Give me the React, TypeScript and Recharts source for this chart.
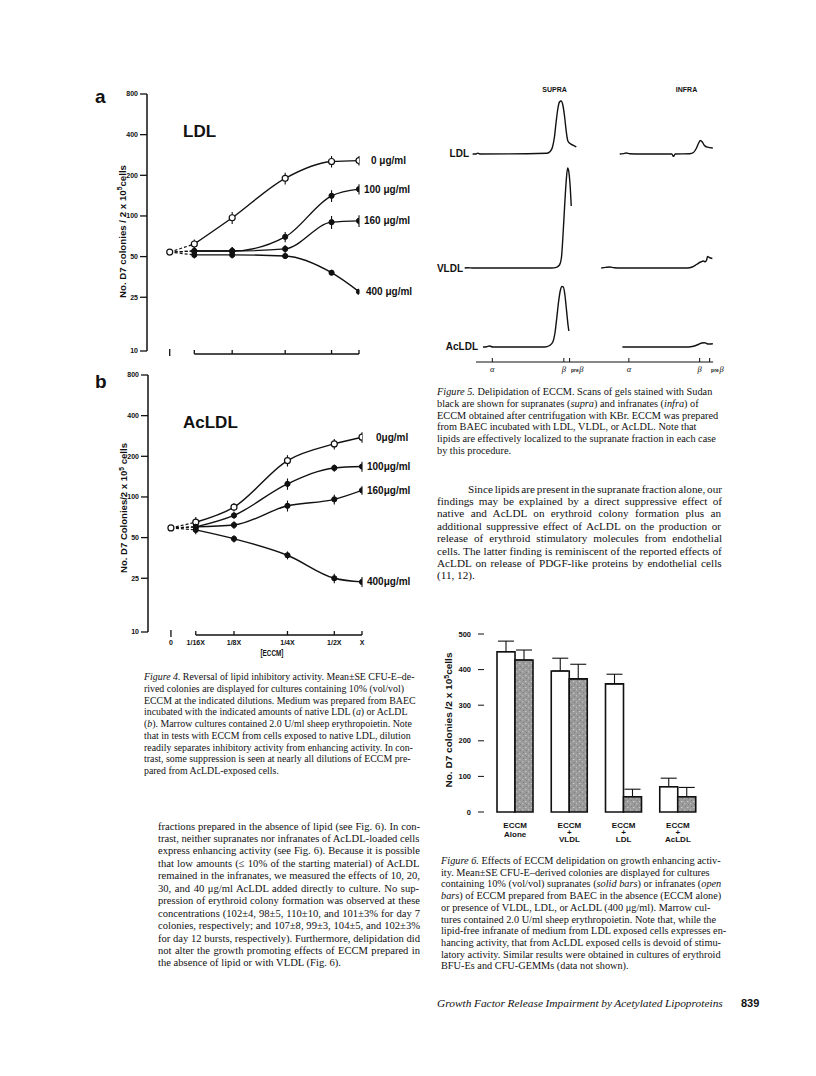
import React from 'react';
import {
  ComposedChart, LineChart, BarChart, Line, Bar, XAxis, YAxis, ErrorBar,
  ReferenceLine, LabelList,
} from 'recharts';

const SANS = '"Liberation Sans", Arial, Helvetica, sans-serif';
const SERIF = '"Liberation Serif", "Times New Roman", serif';
const INK = '#111';

// ---------------- Figure 4 data ----------------
const dilutionLabels = ['0', '1/16X', '1/8X', '1/4X', '1/2X', 'X'];
const dilutionPos = [0, 13, 33, 61, 85.5, 100];
const logTicks = [10, 25, 50, 100, 200, 400, 800];
const doseLabelsA = ['0 μg/ml', '100 μg/ml', '160 μg/ml', '400 μg/ml'];
const doseLabelsB = ['0μg/ml', '100μg/ml', '160μg/ml', '400μg/ml'];

const ldlStart = 54;
const ldl0 = [62, 97, 190, 253, 257];
const ldl0Err = [5, 10, 19, 25, 21];
const ldl100 = [55, 55, 70, 141, 158];
const ldl100Err = [4, 4, 6, 14, 14];
const ldl160 = [55, 55, 57, 90, 92];
const ldl160Err = [4, 4, 4, 10, 9];
const ldl400 = [51.5, 51.5, 50.5, 38, 27.5];
const ldl400Err = [3, 3, 2, 1, 1];

const acStart = 59;
const ac0 = [65, 84, 186, 247, 277];
const ac0Err = [6, 6, 18, 22, 25];
const ac100 = [60, 73, 125, 164, 168];
const ac100Err = [5, 4, 12, 10, 14];
const ac160 = [60, 62, 86, 96, 112];
const ac160Err = [5, 4, 8, 8, 8];
const ac400 = [57, 49, 37, 25, 23.5];
const ac400Err = [4, 3, 2.5, 2, 2];

// ---------------- Figure 5 data (scan traces: [migration, intensity]) ----------------
const ldlSupra = [[0, 0], [1.2, 0], [2.2, 0.9], [3.2, 0], [31, 0.8], [32.3, 2.5], [33.3, 7], [34.1, 17], [34.8, 32], [35.5, 45], [36.2, 52], [36.9, 53], [37.6, 49], [38.3, 38], [39.0, 23], [39.7, 13], [40.6, 10.5], [41.8, 8.8], [43.2, 7]];
const ldlInfra = [[61.3, 0], [62.8, 0.4], [64, 1], [65.5, 0.2], [70, 0], [83, 0], [83.7, -2.5], [84.4, 0], [90.5, 0.3], [92, 1.5], [93.3, 6], [94.2, 11], [94.9, 13.5], [95.7, 12], [96.6, 8.5], [97.8, 6.8], [100.1, 6]];
const vldlSupra = [[-3.3, 0], [-2, 0.3], [0, 0], [33, 0], [34.9, 0.7], [36.2, 3], [37.0, 10], [37.6, 30], [38.3, 60], [39.0, 87], [39.6, 100], [40.1, 96], [40.7, 80], [41.1, 62]];
const vldlInfra = [[53.6, 0], [55.5, 0.6], [57.1, 1], [59, 0.3], [62, 0], [89.5, 0], [91.5, 1], [93.3, 3.5], [95, 6], [96.2, 7], [96.9, 6.2], [97.5, 8], [97.9, 11.5], [98.6, 10.5], [99.9, 9.5]];
const acSupra = [[4.3, 0], [5.8, 0.3], [7.1, 1], [8.4, 0], [30, 0], [32.1, 1.5], [33.4, 5], [34.3, 14], [35.1, 30], [35.8, 45], [36.5, 56], [37.2, 60.5], [37.8, 60], [38.4, 53], [38.9, 42], [39.4, 30], [39.8, 21], [40.1, 16]];
const acInfra = [[62.4, 0], [70, 0], [90, 0], [92, 0.8], [94, 2.5], [95.5, 4], [96.6, 4.3], [97.6, 3.3], [98.6, 3], [100.1, 3.2]];
const scanTickPos = [8.2, 38, 40.4, 65.1, 94.6, 98.75];
const scanTickLabels = ['α', 'β', 'preβ', 'α', 'β', 'preβ'];

// ---------------- Figure 6 data ----------------
const fig6Cats = ['ECCM|Alone', 'ECCM|+|VLDL', 'ECCM|+|LDL', 'ECCM|+|AcLDL'];
const fig6Open = [450, 396, 360, 71];
const fig6OpenErr = [30, 36, 27, 24];
const fig6Solid = [427, 374, 43, 43];
const fig6SolidErr = [28, 41, 21, 26];
const fig6Ticks = [0, 100, 200, 300, 400, 500];

// ---------------- Text ----------------
const fig4Caption = [
  '_Figure 4._ Reversal of lipid inhibitory activity. Mean±SE CFU-E–de-',
  'rived colonies are displayed for cultures containing 10% (vol/vol)',
  'ECCM at the indicated dilutions. Medium was prepared from BAEC',
  'incubated with the indicated amounts of native LDL (_a_) or AcLDL',
  '(_b_). Marrow cultures contained 2.0 U/ml sheep erythropoietin. Note',
  'that in tests with ECCM from cells exposed to native LDL, dilution',
  'readily separates inhibitory activity from enhancing activity. In con-',
  'trast, some suppression is seen at nearly all dilutions of ECCM pre-',
  'pared from AcLDL-exposed cells.',
];
const fig5Caption = [
  '_Figure 5._ Delipidation of ECCM. Scans of gels stained with Sudan',
  'black are shown for supranates (_supra_) and infranates (_infra_) of',
  'ECCM obtained after centrifugation with KBr. ECCM was prepared',
  'from BAEC incubated with LDL, VLDL, or AcLDL. Note that',
  'lipids are effectively localized to the supranate fraction in each case',
  'by this procedure.',
];
const fig6Caption = [
  '_Figure 6._ Effects of ECCM delipidation on growth enhancing activ-',
  'ity. Mean±SE CFU-E–derived colonies are displayed for cultures',
  'containing 10% (vol/vol) supranates (_solid bars_) or infranates (_open_',
  '_bars_) of ECCM prepared from BAEC in the absence (ECCM alone)',
  'or presence of VLDL, LDL, or AcLDL (400 μg/ml). Marrow cul-',
  'tures contained 2.0 U/ml sheep erythropoietin. Note that, while the',
  'lipid-free infranate of medium from LDL exposed cells expresses en-',
  'hancing activity, that from AcLDL exposed cells is devoid of stimu-',
  'latory activity. Similar results were obtained in cultures of erythroid',
  'BFU-Es and CFU-GEMMs (data not shown).',
];
const bodyLeft = [
  'fractions prepared in the absence of lipid (see Fig. 6). In con-',
  'trast, neither supranates nor infranates of AcLDL-loaded cells',
  'express enhancing activity (see Fig. 6). Because it is possible',
  'that low amounts (≤ 10% of the starting material) of AcLDL',
  'remained in the infranates, we measured the effects of 10, 20,',
  '30, and 40 μg/ml AcLDL added directly to culture. No sup-',
  'pression of erythroid colony formation was observed at these',
  'concentrations (102±4, 98±5, 110±10, and 101±3% for day 7',
  'colonies, respectively; and 107±8, 99±3, 104±5, and 102±3%',
  'for day 12 bursts, respectively). Furthermore, delipidation did',
  'not alter the growth promoting effects of ECCM prepared in',
  'the absence of lipid or with VLDL (Fig. 6).',
];
const bodyRight = [
  'Since lipids are present in the supranate fraction alone, our',
  'findings may be explained by a direct suppressive effect of',
  'native and AcLDL on erythroid colony formation plus an',
  'additional suppressive effect of AcLDL on the production or',
  'release of erythroid stimulatory molecules from endothelial',
  'cells. The latter finding is reminiscent of the reported effects of',
  'AcLDL on release of PDGF-like proteins by endothelial cells',
  '(11, 12).',
];
const footerText = 'Growth Factor Release Impairment by Acetylated Lipoproteins';

// ---------------- text measuring (for justified lines) ----------------
let measureCtx: CanvasRenderingContext2D | null = null;
function measureText(text: string, size: number, italic: boolean): number {
  if (typeof document === 'undefined') return text.length * size * 0.45;
  if (!measureCtx) measureCtx = document.createElement('canvas').getContext('2d');
  if (!measureCtx) return text.length * size * 0.45;
  measureCtx.font = `${italic ? 'italic ' : ''}${size}px "Liberation Serif"`;
  return measureCtx.measureText(text).width;
}

// ---------------- Figure 4 component ----------------
const openDot = { r: 3, fill: '#fff', stroke: INK, strokeWidth: 1.2 };
const filledDot = { r: 2.6, fill: INK, stroke: INK, strokeWidth: 1 };

const DoseTick = (props: any) => {
  const { x, y, payload, showLabels } = props;
  const idx = dilutionPos.indexOf(payload.value);
  return (
    <g>
      {idx === 0
        ? <line x1={x} x2={x} y1={y - 2} y2={y + 5} stroke={INK} strokeWidth={1.3} />
        : <line x1={x} x2={x} y1={y - 1} y2={y + 3} stroke={INK} strokeWidth={1.3} />}
      {showLabels ? (
        <text x={x} y={y + 13} textAnchor="middle" fontSize={7} fontWeight="bold" fontFamily={SANS} fill={INK}>
          {dilutionLabels[idx]}
        </text>
      ) : null}
    </g>
  );
};

function DoseChart(props: {
  plotLeft: number; plotTop: number; plotW: number; start: number;
  series: number[][]; errs: number[][]; labels: string[]; labelDx: number[]; showXLabels: boolean;
}) {
  const { plotLeft, plotTop, plotW, start, series, errs, labels, labelDx, showXLabels } = props;
  const yAxisW = 30;
  const mTop = 6;
  const plotH = 257;
  const mRight = 64;
  const xAxisH = 22;
  const width = yAxisW + plotW + mRight;
  const height = mTop + plotH + xAxisH;
  return (
    <div style={{ position: 'absolute', left: plotLeft - yAxisW, top: plotTop - mTop, width, height }}>
      <ComposedChart width={width} height={height} margin={{ top: mTop, right: mRight, bottom: 0, left: 0 }}>
        <XAxis type="number" dataKey="x" domain={[-12, 100]} allowDataOverflow ticks={dilutionPos} interval={0}
          axisLine={false} tickLine={false} tickSize={0} tickMargin={0} height={xAxisH}
          tick={<DoseTick showLabels={showXLabels} />} />
        <YAxis type="number" scale="log" domain={[10, 800]} allowDataOverflow ticks={logTicks} interval={0}
          width={yAxisW} tickSize={7} tickMargin={2}
          axisLine={{ stroke: INK, strokeWidth: 1.5 }} tickLine={{ stroke: INK, strokeWidth: 1.3 }}
          tick={{ fontSize: 7, fontWeight: 'bold', fontFamily: SANS, fill: INK }} />
        <ReferenceLine segment={[{ x: dilutionPos[1], y: 9.5 }, { x: dilutionPos[5], y: 9.5 }]}
          stroke={INK} strokeWidth={1.3} ifOverflow="visible" />
        {series.map((vals, si) => (
          <Line key={'d' + si} data={[{ x: dilutionPos[0], y: start }, { x: dilutionPos[1], y: vals[0] }]}
            dataKey="y" stroke={INK} strokeWidth={1.2} strokeDasharray="3 2" dot={false}
            isAnimationActive={false} />
        ))}
        {series.map((vals, si) => (
          <Line key={'s' + si}
            data={vals.map((v, i) => ({ x: dilutionPos[i + 1], y: v, e: errs[si][i] }))}
            dataKey="y" type="monotone" stroke={INK} strokeWidth={1.4}
            dot={si === 0 ? openDot : filledDot} isAnimationActive={false}>
            <ErrorBar dataKey="e" direction="y" width={0} stroke={INK} strokeWidth={1.1} />
            <LabelList dataKey="y" content={(p: any) => {
              if (p.index !== vals.length - 1) return null;
              const px = Number(p.x ?? p.viewBox?.x);
              const py = Number(p.y ?? p.viewBox?.y);
              return (
                <text x={px + labelDx[si]} y={py + 3.5} fontSize={10} fontWeight="bold" fontFamily={SANS} fill={INK}>
                  {labels[si]}
                </text>
              );
            }} />
          </Line>
        ))}
        <Line data={[{ x: dilutionPos[0], y: start }]} dataKey="y" stroke="none" dot={openDot} isAnimationActive={false} />
      </ComposedChart>
    </div>
  );
}

// ---------------- Figure 5 component ----------------
const ScanTick = (props: any) => {
  const { x, y, payload } = props;
  const idx = scanTickPos.indexOf(payload.value);
  const lab = scanTickLabels[idx];
  return (
    <g>
      <line x1={x} x2={x} y1={y - 4} y2={y} stroke={INK} strokeWidth={1} />
      {lab === 'preβ' ? (
        <text x={x + 1.5} y={y + 10} fontSize={8.5} fontStyle="italic" fontFamily={SERIF} fill={INK}>
          <tspan fontSize={5} fontWeight="bold" fontStyle="normal" fontFamily={SANS}>pre</tspan>
          <tspan dx={0.5}>β</tspan>
        </text>
      ) : (
        <text x={x} y={y + 10} textAnchor="middle" fontSize={8.5} fontStyle="italic" fontFamily={SERIF} fill={INK}>{lab}</text>
      )}
    </g>
  );
};

const toPts = (arr: number[][]) => arr.map(([u, h]) => ({ u, h }));

function ScanRow(props: {
  left: number; top: number; width: number; plotH: number; xDomain: number[]; yDomain: number[];
  traces: number[][][]; axis?: boolean;
}) {
  const { left, top, width, plotH, xDomain, yDomain, traces, axis } = props;
  const axisH = axis ? 18 : 0;
  const mRight = axis ? 16 : 0;
  const height = plotH + axisH;
  return (
    <div style={{ position: 'absolute', left, top, width: width + mRight, height }}>
      <LineChart width={width + mRight} height={height} margin={{ top: 0, right: mRight, bottom: 0, left: 0 }}>
        <XAxis type="number" dataKey="u" domain={xDomain} allowDataOverflow hide={!axis}
          ticks={scanTickPos} interval={0} height={axisH || 0} tickSize={0} tickMargin={0}
          axisLine={{ stroke: INK, strokeWidth: 1.2 }} tickLine={false} tick={<ScanTick />} />
        <YAxis type="number" domain={yDomain} allowDataOverflow hide />
        {traces.map((t, i) => (
          <Line key={i} data={toPts(t)} dataKey="h" type="monotone" stroke={INK} strokeWidth={1.4}
            dot={false} isAnimationActive={false} />
        ))}
      </LineChart>
    </div>
  );
}

// ---------------- Figure 6 component ----------------
const Fig6Tick = (props: any) => {
  const { x, y, payload } = props;
  const lines = String(payload.value).split('|');
  return (
    <text x={x} y={y} textAnchor="middle" fontSize={8} fontWeight="bold" fontFamily={SANS} fill={INK}>
      {lines.map((l, i) => (
        <tspan key={i} x={x} dy={i === 0 ? 16 : lines.length === 2 ? 9 : 7}>{l}</tspan>
      ))}
    </text>
  );
};

function Fig6Chart() {
  const data = fig6Cats.map((c, i) => ({
    cat: c,
    open: fig6Open[i], openErr: [0, fig6OpenErr[i]],
    solid: fig6Solid[i], solidErr: [0, fig6SolidErr[i]],
  }));
  const yAxisW = 44;
  const mTop = 8;
  const plotH = 178;
  const plotW = 221;
  const mRight = 10;
  const xAxisH = 36;
  const width = yAxisW + plotW + mRight;
  const height = mTop + plotH + xAxisH;
  return (
    <div style={{ position: 'absolute', left: 484 - yAxisW, top: 634 - mTop, width, height }}>
      <BarChart width={width} height={height} data={data} margin={{ top: mTop, right: mRight, bottom: 0, left: 0 }}
        barGap={0} barCategoryGap="17%">
        <defs>
          <pattern id="stipple" width="6" height="6" patternUnits="userSpaceOnUse">
            <rect width="6" height="6" fill="#9a9a9a" />
            <rect x="1" y="1" width="1.5" height="1" fill="#c9c9c9" />
            <rect x="4" y="3" width="1" height="1.5" fill="#bdbdbd" />
            <rect x="2" y="4" width="1" height="1" fill="#7a7a7a" />
            <rect x="5" y="0" width="1" height="1" fill="#808080" />
          </pattern>
        </defs>
        <XAxis dataKey="cat" axisLine={false} tickLine={false} tickSize={0} tickMargin={0} height={xAxisH}
          interval={0} padding={{ left: 4, right: 0 }} tick={<Fig6Tick />} />
        <YAxis type="number" domain={[0, 500]} ticks={fig6Ticks} interval={0} width={yAxisW}
          axisLine={false} tickSize={6} tickMargin={7} tickLine={{ stroke: INK, strokeWidth: 1 }}
          tick={{ fontSize: 7.5, fontWeight: 'bold', fontFamily: SANS, fill: INK }} />
        <Bar dataKey="open" fill="#fff" stroke={INK} strokeWidth={1.6} barSize={18} isAnimationActive={false}>
          <ErrorBar dataKey="openErr" direction="y" width={8} stroke={INK} strokeWidth={1.1} />
        </Bar>
        <Bar dataKey="solid" fill="url(#stipple)" stroke={INK} strokeWidth={1.6} barSize={18} isAnimationActive={false}>
          <ErrorBar dataKey="solidErr" direction="y" width={8} stroke={INK} strokeWidth={1.1} />
        </Bar>
      </BarChart>
    </div>
  );
}

// ---------------- Text helpers ----------------
function RichLine(props: { x: number; y: number; text: string; size: number; width?: number }) {
  const { x, y, text, size, width } = props;
  const parts = text.split('_');
  let style: any = undefined;
  if (width) {
    const natural = parts.reduce((s, p, i) => s + (p ? measureText(p, size, i % 2 === 1) : 0), 0);
    const spaces = (text.match(/ /g) || []).length;
    if (spaces > 0) {
      const ws = (width - natural) / spaces;
      style = { wordSpacing: `${ws.toFixed(2)}px` };
    }
  }
  return (
    <text x={x} y={y} fontSize={size} fontFamily={SERIF} fill={INK} style={style}>
      {parts.map((p, i) => (p ? <tspan key={i} fontStyle={i % 2 ? 'italic' : 'normal'}>{p}</tspan> : null))}
    </text>
  );
}

function Block(props: { lines: string[]; x: number; y0: number; pitch: number; size: number;
  width?: number; firstIndent?: number }) {
  const { lines, x, y0, pitch, size, width, firstIndent = 0 } = props;
  return (
    <g>
      {lines.map((l, i) => {
        const last = i === lines.length - 1;
        const ind = i === 0 ? firstIndent : 0;
        return (
          <RichLine key={i} x={x + ind} y={y0 + i * pitch} text={l} size={size}
            width={width && !last ? width - ind : undefined} />
        );
      })}
    </g>
  );
}

function RotLabel(props: { cx: number; cy: number; main: string; tail: string; size: number; len: number }) {
  const { cx, cy, main, tail, size, len } = props;
  return (
    <text transform={`translate(${cx},${cy}) rotate(-90)`} textAnchor="middle" fontSize={size}
      fontWeight="bold" fontFamily={SANS} fill={INK} textLength={len} lengthAdjust="spacingAndGlyphs">
      {main}
      <tspan dy={-3.5} fontSize={size * 0.7}>5</tspan>
      <tspan dy={3.5}>{tail}</tspan>
    </text>
  );
}

export default function App() {
  return (
    <div style={{ position: 'absolute', left: 0, top: 0, width: 816, height: 1076, background: '#fff', overflow: 'hidden' }}>
      <DoseChart plotLeft={147} plotTop={94} plotW={212} start={ldlStart}
        series={[ldl0, ldl100, ldl160, ldl400]} errs={[ldl0Err, ldl100Err, ldl160Err, ldl400Err]}
        labels={doseLabelsA} labelDx={[12, 5, 5, 7]} showXLabels={false} />
      <DoseChart plotLeft={148} plotTop={375} plotW={214} start={acStart}
        series={[ac0, ac100, ac160, ac400]} errs={[ac0Err, ac100Err, ac160Err, ac400Err]}
        labels={doseLabelsB} labelDx={[14, 5, 5, 5]} showXLabels={true} />

      <ScanRow left={463.4} top={94} width={252} plotH={63} xDomain={[-4, 101]} yDomain={[-3, 60]}
        traces={[ldlSupra, ldlInfra]} />
      <ScanRow left={463.4} top={163} width={252} plotH={108} xDomain={[-4, 101]} yDomain={[-3, 105]}
        traces={[vldlSupra, vldlInfra]} />
      <ScanRow left={476.4} top={282} width={237.1} plotH={80} xDomain={[1.4, 100.2]} yDomain={[-15, 65]}
        traces={[acSupra, acInfra]} axis />

      <Fig6Chart />

      <svg width={816} height={1076} style={{ position: 'absolute', left: 0, top: 0, pointerEvents: 'none' }}>
        {/* Figure 4 labels */}
        <text x={95} y={103} fontSize={19} fontWeight="bold" fontFamily={SANS} fill={INK}>a</text>
        <text x={95} y={388} fontSize={19} fontWeight="bold" fontFamily={SANS} fill={INK}>b</text>
        <text x={183} y={137} fontSize={17} fontWeight="bold" fontFamily={SANS} fill={INK}>LDL</text>
        <text x={183} y={428} fontSize={17} fontWeight="bold" fontFamily={SANS} fill={INK}>AcLDL</text>
        <RotLabel cx={125.5} cy={231.5} main="No. D7 colonies / 2 x 10" tail="cells" size={9} len={133} />
        <RotLabel cx={127} cy={508} main="No. D7 Colonies/2 x 10" tail=" cells" size={9} len={130} />
        <text x={272} y={656} textAnchor="middle" fontSize={8.5} fontWeight="bold" fontFamily={SANS} fill={INK}
          textLength={23} lengthAdjust="spacingAndGlyphs">[ECCM]</text>

        {/* Figure 5 labels */}
        <text x={554.5} y={92} textAnchor="middle" fontSize={7} fontWeight="bold" fontFamily={SANS} fill={INK}>SUPRA</text>
        <text x={686.5} y={92} textAnchor="middle" fontSize={7} fontWeight="bold" fontFamily={SANS} fill={INK}>INFRA</text>
        <text x={469} y={157} textAnchor="end" fontSize={10} fontWeight="bold" fontFamily={SANS} fill={INK}>LDL</text>
        <text x={463} y={272} textAnchor="end" fontSize={10} fontWeight="bold" fontFamily={SANS} fill={INK}>VLDL</text>
        <text x={478} y={350} textAnchor="end" fontSize={10} fontWeight="bold" fontFamily={SANS} fill={INK}>AcLDL</text>

        {/* Figure 6 y label */}
        <RotLabel cx={452} cy={720} main="No. D7 colonies /2 x 10" tail="cells" size={9} len={135} />

        {/* Captions and body text */}
        <Block lines={fig4Caption} x={144} y0={680} pitch={11.75} size={9.9} />
        <Block lines={bodyLeft} x={158} y0={829.5} pitch={12.45} size={10.6} width={262} />
        <Block lines={fig5Caption} x={437} y0={395} pitch={11.8} size={10.3} />
        <Block lines={bodyRight} x={437} y0={492.5} pitch={12.4} size={11.2} width={285} firstIndent={31} />
        <Block lines={fig6Caption} x={441} y0={864} pitch={11.7} size={10.3} />

        {/* Running footer */}
        <RichLine x={437} y={1006.5} text={'_' + footerText + '_'} size={11.4} width={286} />
        <text x={741} y={1007} fontSize={11} fontWeight="bold" fontFamily={SANS} fill={INK}>839</text>
      </svg>
    </div>
  );
}
